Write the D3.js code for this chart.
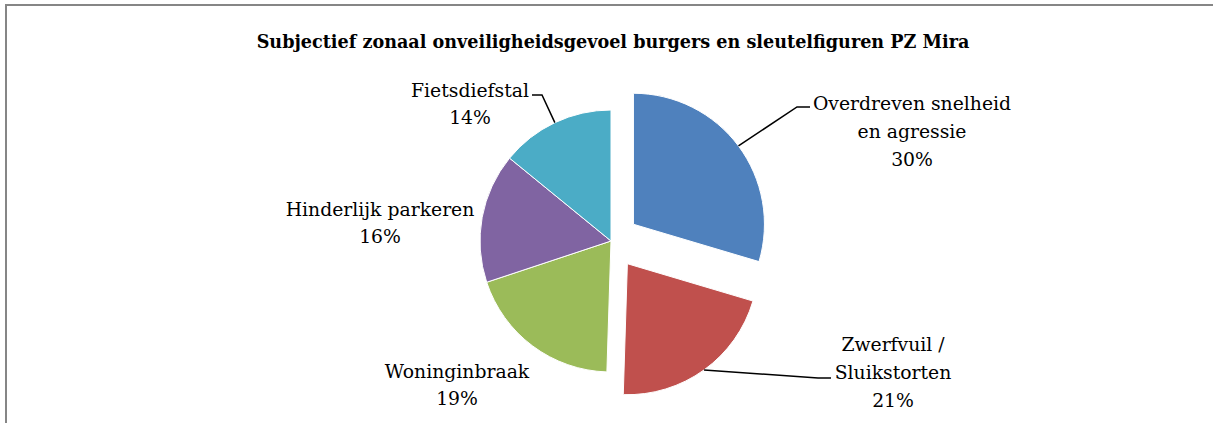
<!DOCTYPE html>
<html>
<head>
<meta charset="utf-8">
<script src="https://cdn.jsdelivr.net/npm/d3@7"></script>
<style>
  body { margin: 0; background: #fff; }
  svg { display: block; }
  text { font-family: "DejaVu Serif", "Liberation Serif", serif; fill: #000; }
</style>
</head>
<body>
<div id="chart"></div>
<script>
// data
let categories = ["Overdreven snelheid en agressie", "Zwerfvuil / Sluikstorten", "Woninginbraak", "Hinderlijk parkeren", "Fietsdiefstal"];
let shares = [29.6, 20.9, 19.4, 16.0, 14.1];
let labelLines = [["Overdreven snelheid", "en agressie"], ["Zwerfvuil /", "Sluikstorten"], ["Woninginbraak"], ["Hinderlijk parkeren"], ["Fietsdiefstal"]];
let exploded = [true, true, false, false, false];
let colors = ["#4f81bd", "#c0504d", "#9bbb59", "#8064a2", "#4bacc6"];
let title = "Subjectief zonaal onveiligheidsgevoel burgers en sleutelfiguren PZ Mira";

function PieConfig() {
  let config = {
    width: 1213,
    height: 423,
    cx: 611,
    cy: 241,
    radius: 131,
    explode: 28,
    lineHeight: 28,
    container: d3.select("#chart").append("svg")
  };
  config.container
    .attr("width", config.width)
    .attr("height", config.height);
  // label block centre x / first baseline y, plus leader elbow points
  config.labels = [
    { x: 912, y: 110, leader: [[797, 107], [810, 107]] },
    { x: 893, y: 351, leader: [[818, 378], [831, 378]] },
    { x: 457, y: 378, leader: null },
    { x: 380, y: 216, leader: null },
    { x: 470, y: 97, leader: [[542, 95], [532, 95]] }
  ];
  return config;
}

let cfg = PieConfig();
let svg = cfg.container;

// chart frame (runs off the right and bottom edge)
svg.append("rect")
  .attr("x", 6)
  .attr("y", 5)
  .attr("width", 1230)
  .attr("height", 440)
  .attr("fill", "#fff")
  .attr("stroke", "#868686")
  .attr("stroke-width", 2);

svg.append("text")
  .attr("x", 613)
  .attr("y", 48)
  .attr("text-anchor", "middle")
  .attr("font-weight", "bold")
  .attr("font-size", 17.6)
  .text(title);

let pie = d3.pie().sort(null).value(d => d)(shares);
let arc = d3.arc().innerRadius(0).outerRadius(cfg.radius);

function offset(d, i) {
  let a = (d.startAngle + d.endAngle) / 2;
  let e = exploded[i] ? cfg.explode : 0;
  return [cfg.cx + e * Math.sin(a), cfg.cy - e * Math.cos(a)];
}

svg.selectAll(".slice")
  .data(pie)
  .enter()
  .append("path")
  .attr("class", "slice")
  .attr("transform", (d, i) => "translate(" + offset(d, i) + ")")
  .attr("d", arc)
  .attr("fill", (d, i) => colors[i])
  .attr("stroke", "#fff")
  .attr("stroke-width", 1);

// leader lines start at the middle of each slice's rim
pie.forEach((d, i) => {
  let lab = cfg.labels[i];
  if (!lab.leader) return;
  let o = offset(d, i);
  let a = (d.startAngle + d.endAngle) / 2;
  let start = [o[0] + cfg.radius * Math.sin(a), o[1] - cfg.radius * Math.cos(a)];
  svg.append("path")
    .attr("d", d3.line()([start].concat(lab.leader)))
    .attr("fill", "none")
    .attr("stroke", "#000")
    .attr("stroke-width", 1.5);
});

// labels
pie.forEach((d, i) => {
  let lab = cfg.labels[i];
  let lines = labelLines[i].concat([Math.round(d.value) + "%"]);
  let t = svg.append("text")
    .attr("text-anchor", "middle")
    .attr("font-size", 18.8);
  lines.forEach((ln, k) => {
    t.append("tspan")
      .attr("x", lab.x)
      .attr("y", lab.y + k * (lines.length > 2 ? cfg.lineHeight : 27))
      .text(ln);
  });
});
</script>
</body>
</html>
